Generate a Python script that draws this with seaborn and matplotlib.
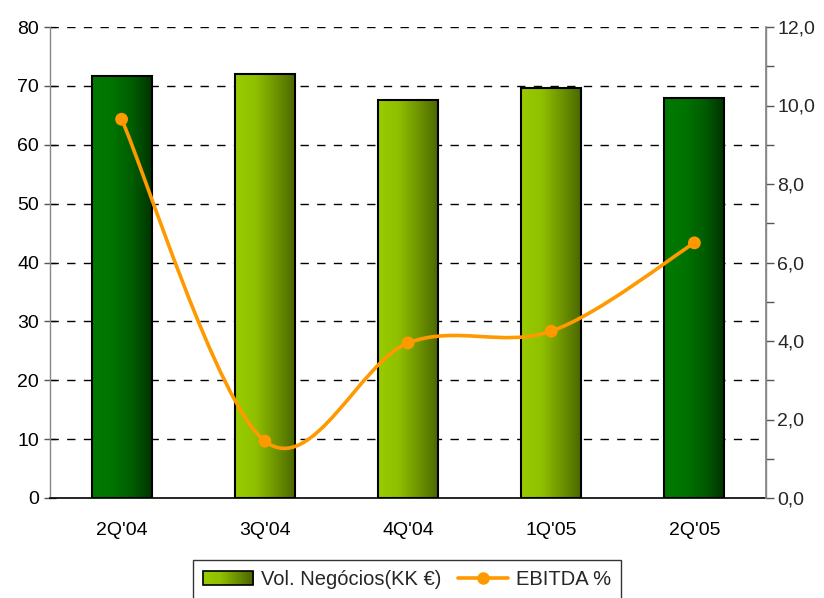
import numpy as np
import pandas as pd
import matplotlib
matplotlib.use("Agg")
import matplotlib.pyplot as plt
import seaborn as sns
from matplotlib.path import Path
from matplotlib.patches import PathPatch, Rectangle
from matplotlib.legend_handler import HandlerPatch
from matplotlib.lines import Line2D
from matplotlib.colors import LinearSegmentedColormap

categories = ["2Q'04", "3Q'04", "4Q'04", "1Q'05", "2Q'05"]
vol_negocios = [71.6, 72.0, 67.6, 69.6, 67.9]
ebitda_pct = [9.65, 1.45, 3.95, 4.25, 6.5]
left_ticks = [0, 10, 20, 30, 40, 50, 60, 70, 80]
right_ticks = [0, 2, 4, 6, 8, 10, 12]
right_labels = ["0,0", "2,0", "4,0", "6,0", "8,0", "10,0", "12,0"]
bar_kind = ["dark", "lime", "lime", "lime", "dark"]

sns.set_theme(style="white")
plt.rcParams['font.family'] = ['Liberation Sans', 'DejaVu Sans']

fig = plt.figure(figsize=(8.24, 5.98), dpi=100)
ax = fig.add_axes([50/824, 1-498/598, 716/824, 471/598])

df = pd.DataFrame({"cat": categories, "vol": vol_negocios})
sns.barplot(data=df, x="cat", y="vol", ax=ax, width=0.42, color="#99CC00",
            edgecolor="black", linewidth=1.5, zorder=3)

cmaps = {
    "dark": LinearSegmentedColormap.from_list("d", ["#007A00", "#007400", "#005C00", "#003300"]),
    "lime": LinearSegmentedColormap.from_list("l", ["#99CC00", "#90C000", "#6E9400", "#4A6600"]),
}
grad = np.linspace(0, 1, 256).reshape(1, -1)
for patch, kind in zip(ax.patches, bar_kind):
    x0, y0 = patch.get_x(), patch.get_y()
    w, h = patch.get_width(), patch.get_height()
    im = ax.imshow(grad, cmap=cmaps[kind], extent=[x0, x0 + w, y0, y0 + h],
                   aspect="auto", zorder=3, interpolation="bilinear")
    im.set_clip_path(patch)
    patch.set_facecolor("none")
    patch.set_zorder(4)

FS = 14
ax.set_xlim(-0.5, 4.5)
ax.set_ylim(0, 80)
ax.set_yticks(left_ticks)
ax.set_yticklabels([str(t) for t in left_ticks], fontsize=FS)
ax.set_xticks(range(len(categories)))
ax.set_xticklabels(categories, fontsize=FS)
ax.set_xticks([i - 0.5 for i in range(len(categories) + 1)], minor=True)
ax.tick_params(axis="x", which="major", length=0, pad=17, colors="black")
ax.tick_params(axis="x", which="minor", direction="inout", length=8, width=1, color="#555555")
ax.tick_params(axis="y", which="major", direction="inout", length=8, width=1, color="#555555", pad=4, labelcolor="black")
ax.set_xlabel("")
ax.set_ylabel("")
for y in left_ticks[1:]:
    ax.axhline(y, color="black", linestyle=(0, (6, 6)), linewidth=1, zorder=1)
for s in ["left", "right"]:
    ax.spines[s].set_color("#888888")
    ax.spines[s].set_linewidth(1)
ax.spines["top"].set_visible(False)
ax.spines["bottom"].set_color("black")
ax.spines["bottom"].set_linewidth(1.2)
ax.spines["bottom"].set_zorder(5)

ax2 = ax.twinx()
ax2.set_ylim(0, 12)
ax2.set_yticks(right_ticks)
ax2.set_yticklabels(right_labels, fontsize=FS)
ax2.set_yticks(list(range(1, 12, 2)), minor=True)
ax2.tick_params(axis="y", which="major", direction="out", length=6, width=1, color="#555555", pad=2)
ax2.tick_params(axis="y", which="minor", direction="out", length=6, width=1, color="#555555")
ax2.spines["top"].set_visible(False)
ax2.spines["left"].set_visible(False)
ax2.spines["bottom"].set_visible(False)
ax2.spines["right"].set_color("#888888")
ax2.grid(False)

# Smoothed (Catmull-Rom style Bezier) line through the data points
xs = np.arange(len(ebitda_pct), dtype=float)
ys = np.array(ebitda_pct, dtype=float)
verts = [(xs[0], ys[0])]
codes = [Path.MOVETO]
n = len(xs)
for i in range(n - 1):
    p0 = (xs[max(i - 1, 0)], ys[max(i - 1, 0)])
    p1 = (xs[i], ys[i])
    p2 = (xs[i + 1], ys[i + 1])
    p3 = (xs[min(i + 2, n - 1)], ys[min(i + 2, n - 1)])
    c1 = (p1[0] + (p2[0] - p0[0]) / 6, p1[1] + (p2[1] - p0[1]) / 6)
    c2 = (p2[0] - (p3[0] - p1[0]) / 6, p2[1] - (p3[1] - p1[1]) / 6)
    verts += [c1, c2, p2]
    codes += [Path.CURVE4] * 3
ax2.add_patch(PathPatch(Path(verts, codes), facecolor="none", edgecolor="#FF9900",
                        linewidth=2.6, zorder=6, capstyle="round", joinstyle="round"))
sns.scatterplot(x=xs, y=ys, ax=ax2, color="#FF9900", s=85, edgecolor="none", zorder=7, legend=False)


class GradientHandler(HandlerPatch):
    def create_artists(self, legend, orig_handle, xdescent, ydescent, width, height, fontsize, trans):
        cm = cmaps["lime"]
        arts = []
        steps = 24
        for k in range(steps):
            r = Rectangle((-xdescent + width * k / steps, -ydescent), width / steps + 0.3, height,
                          facecolor=cm(k / (steps - 1)), edgecolor="none", transform=trans)
            arts.append(r)
        arts.append(Rectangle((-xdescent, -ydescent), width, height, facecolor="none",
                              edgecolor="black", linewidth=1.2, transform=trans))
        return arts


bar_handle = Rectangle((0, 0), 1, 1, facecolor="#99CC00", edgecolor="black")
line_handle = Line2D([0], [0], color="#FF9900", linewidth=2.6, marker="o", markersize=8)
leg = fig.legend([bar_handle, line_handle], ["Vol. Negócios(KK €)", "EBITDA %"],
                 handler_map={Rectangle: GradientHandler()},
                 loc="upper center", bbox_to_anchor=(407/824, 1-560/598), ncol=2, fontsize=14.5,
                 frameon=True, fancybox=False, edgecolor="black", handlelength=2.5,
                 handletextpad=0.4, columnspacing=0.8, borderpad=0.5, borderaxespad=0)
leg.get_frame().set_linewidth(1)

fig.savefig("out.png", dpi=100, facecolor="white")
